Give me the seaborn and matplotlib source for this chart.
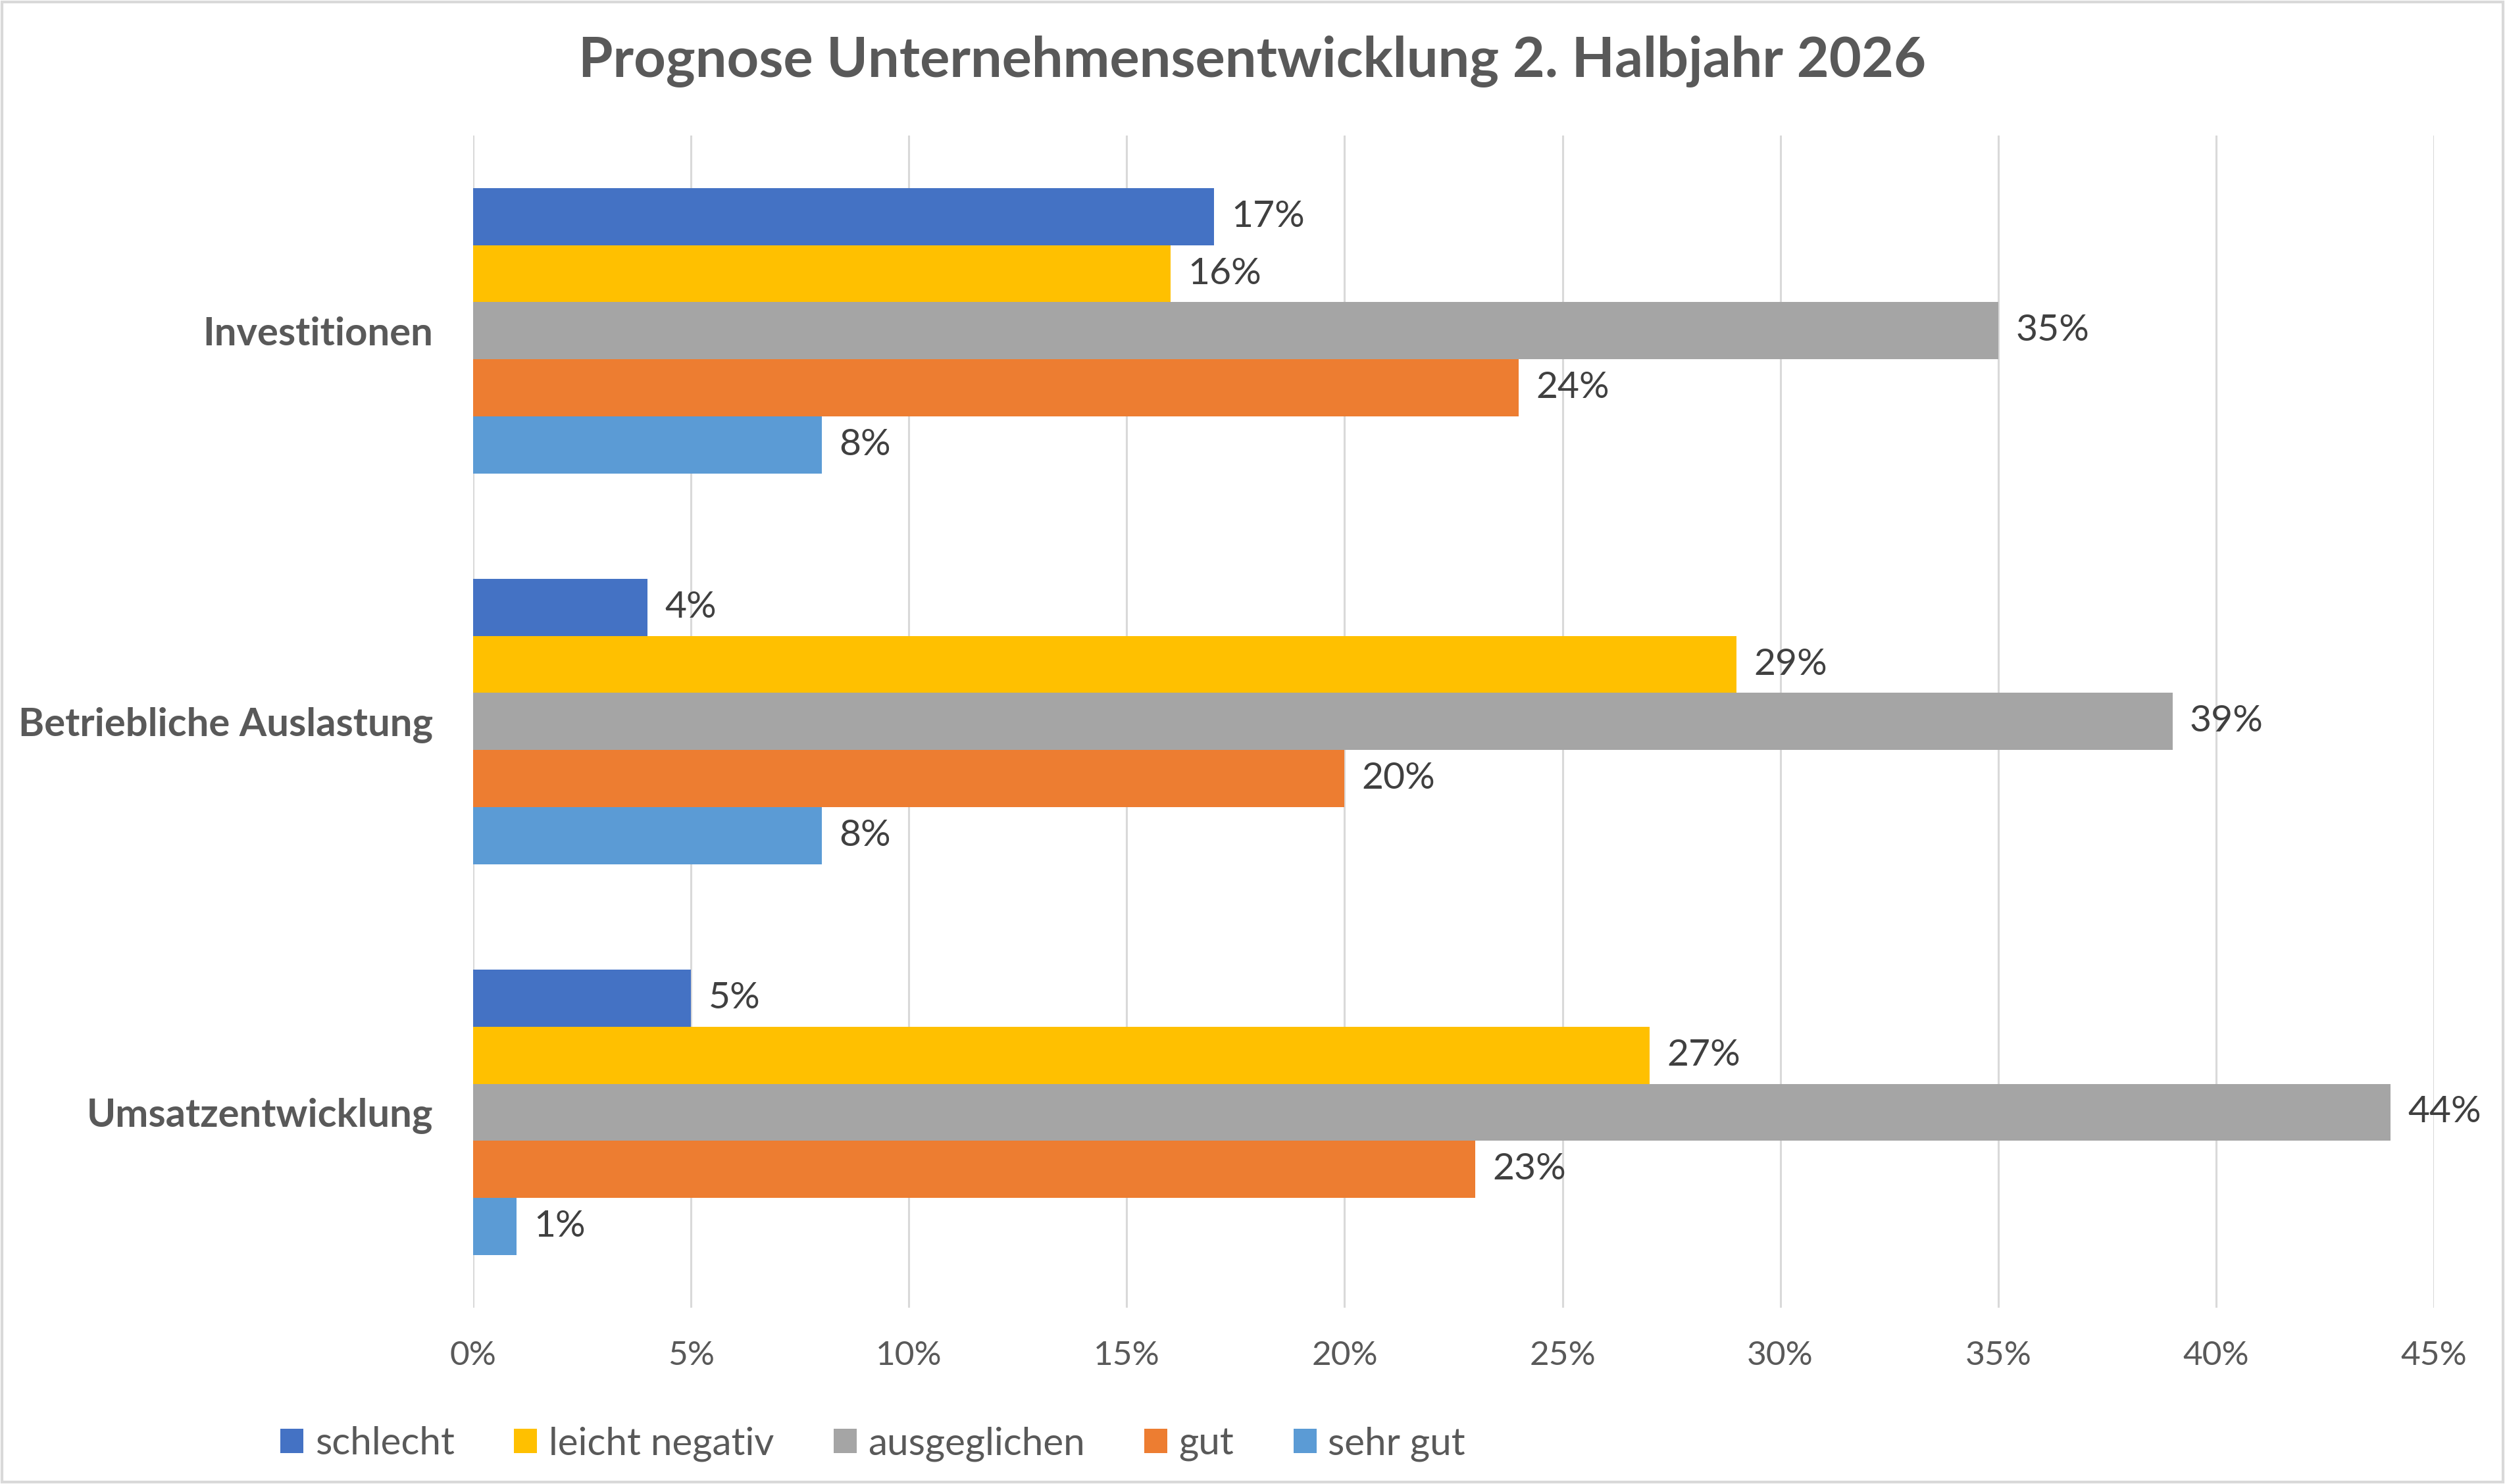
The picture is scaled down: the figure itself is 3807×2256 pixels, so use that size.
import pandas as pd
import seaborn as sns
import matplotlib.pyplot as plt
from matplotlib.patches import Rectangle

# Chart data
bereiche = ['Investitionen', 'Betriebliche Auslastung', 'Umsatzentwicklung']
prognosen = ['schlecht', 'leicht negativ', 'ausgeglichen', 'gut', 'sehr gut']
schlecht = [17, 4, 5]
leicht_negativ = [16, 29, 27]
ausgeglichen = [35, 39, 44]
gut = [24, 20, 23]
sehr_gut = [8, 8, 1]
x_ticks = [0, 5, 10, 15, 20, 25, 30, 35, 40, 45]

farben = ['#4472C4', '#FFC000', '#A5A5A5', '#ED7D31', '#5B9BD5']

werte = [schlecht, leicht_negativ, ausgeglichen, gut, sehr_gut]
rows = []
for prognose, serie in zip(prognosen, werte):
    for bereich, wert in zip(bereiche, serie):
        rows.append({'Bereich': bereich, 'Prognose': prognose, 'Anteil': wert})
df = pd.DataFrame(rows)

sns.set_theme(style='white')
plt.rcParams['font.family'] = ['Lato', 'DejaVu Sans']

text_grau = '#595959'
gitter_grau = '#D9D9D9'

fig = plt.figure(figsize=(38.07, 22.56), dpi=100)
ax = fig.add_axes([0.1889, 0.1188, 0.9716 - 0.1889, 0.9087 - 0.1188])

sns.barplot(
    data=df,
    y='Bereich',
    x='Anteil',
    hue='Prognose',
    order=bereiche,
    hue_order=prognosen,
    palette=farben,
    orient='h',
    width=0.732,
    saturation=1,
    errorbar=None,
    linewidth=0,
    ax=ax,
)

for container in ax.containers:
    ax.bar_label(
        container,
        labels=['{:.0f}%'.format(v) for v in container.datavalues],
        padding=19,
        fontsize=41,
        color='#404040',
    )

ax.set_xlim(0, 45)
ax.set_ylim(2.5, -0.5)
ax.set_xticks(x_ticks)
ax.set_xticklabels(['{}%'.format(t) for t in x_ticks])
ax.xaxis.grid(True, color=gitter_grau, linewidth=2.2)
ax.set_axisbelow(True)
for spine in ax.spines.values():
    spine.set_visible(False)
ax.tick_params(axis='x', length=0, pad=36, labelsize=37, labelcolor=text_grau)
ax.tick_params(axis='y', length=0, pad=44, labelsize=43, labelcolor=text_grau)
for lbl in ax.get_yticklabels():
    lbl.set_fontweight('bold')
ax.set_xlabel('')
ax.set_ylabel('')

ax.legend_.remove()
handles, labels = ax.get_legend_handles_labels()
fig.legend(
    handles, labels,
    loc='center',
    bbox_to_anchor=(0.3485, 0.027),
    ncol=5,
    frameon=False,
    fontsize=42,
    labelcolor=text_grau,
    handlelength=0.6,
    handleheight=0.6,
    handletextpad=0.3,
    columnspacing=1.55,
)

fig.text(0.5, 0.959, 'Prognose Unternehmensentwicklung 2. Halbjahr 2026',
         ha='center', va='center', fontsize=61, fontweight='bold', color=text_grau)

fig.patches.append(Rectangle((0.0008, 0.0013), 0.9984, 0.9974, transform=fig.transFigure,
                             fill=False, edgecolor=gitter_grau, linewidth=3))

fig.savefig('out.png', dpi=100, facecolor='white')
plt.close()
